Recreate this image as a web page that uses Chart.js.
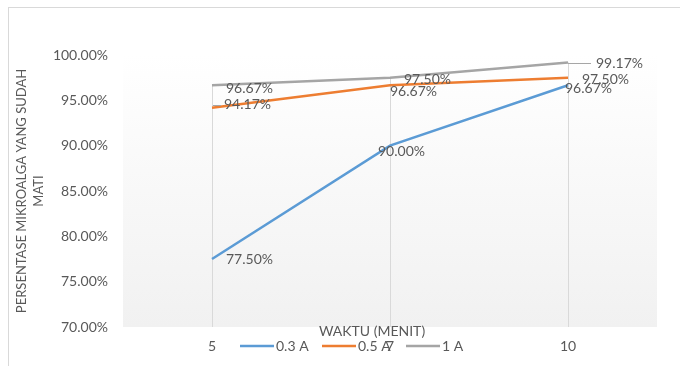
<!DOCTYPE html>
<html>
<head>
<meta charset="utf-8">
<script src="https://cdn.jsdelivr.net/npm/chart.js@4.4.1/dist/chart.umd.min.js"></script>
<style>
  html, body { margin: 0; padding: 0; background: #fff; }
  #wrap { position: relative; width: 680px; height: 366px; }
  #frame { position: absolute; left: 8px; top: 7px; width: 700px; height: 400px;
           border-top: 1px solid #d9d9d9; border-left: 1px solid #d9d9d9; }
  canvas { position: absolute; left: 0; top: 0; }
</style>
</head>
<body>
<div id="wrap">
  <div id="frame"></div>
  <canvas id="chart" width="680" height="366"></canvas>
</div>
<script>
const waktu = ['5', '7', '10'];
const seriesNames = ['0.3 A', '0.5 A', '1 A'];
const arus03 = [77.50, 90.00, 96.67];
const arus05 = [94.17, 96.67, 97.50];
const arus1 = [96.67, 97.50, 99.17];
const seriesColors = ['#5B9BD5', '#ED7D31', '#A5A5A5'];

const FONT = 'Lato, "Open Sans", sans-serif';
const TEXT = '#595959';

// label offsets (px) from each point, per series
const labelOffsets = [
  [[14, 0], [-12, 6], [-3, 3]],
  [[12, -3], [0, 6], [14, 2]],
  [[14, 3], [14, 2], [28, 1]]
];

const plotBackground = {
  id: 'plotBackground',
  beforeDraw(chart) {
    const { ctx, chartArea: a } = chart;
    const g = ctx.createLinearGradient(0, a.top, 0, a.bottom);
    g.addColorStop(0, '#ffffff');
    g.addColorStop(1, '#f1f1f1');
    ctx.save();
    ctx.fillStyle = g;
    ctx.fillRect(a.left, a.top, a.right - a.left, a.bottom - a.top);
    ctx.restore();
  },
  beforeDatasetsDraw(chart) {
    // drop lines from the highest point of each category
    const { ctx, scales: { x, y } } = chart;
    ctx.save();
    ctx.strokeStyle = '#d9d9d9';
    ctx.lineWidth = 1;
    waktu.forEach((w, i) => {
      const top = Math.max(...chart.data.datasets.map(d => d.data[i]));
      const px = Math.round(x.getPixelForValue(i)) + 0.5;
      ctx.beginPath();
      ctx.moveTo(px, y.getPixelForValue(top));
      ctx.lineTo(px, y.getPixelForValue(70));
      ctx.stroke();
    });
    ctx.restore();
  }
};

const decorations = {
  id: 'decorations',
  afterDatasetsDraw(chart) {
    const { ctx } = chart;
    ctx.save();
    ctx.font = '14px ' + FONT;
    ctx.fillStyle = TEXT;
    ctx.textBaseline = 'middle';
    ctx.textAlign = 'left';

    // leader lines for the offset labels
    ctx.strokeStyle = '#a6a6a6';
    ctx.lineWidth = 1;
    const p10 = chart.getDatasetMeta(2).data[2];
    ctx.beginPath();
    ctx.moveTo(p10.x, Math.round(p10.y) + 0.5);
    ctx.lineTo(p10.x + 23, Math.round(p10.y) + 0.5);
    ctx.stroke();
    const p5 = chart.getDatasetMeta(1).data[0];
    ctx.beginPath();
    ctx.moveTo(p5.x + 1, Math.round(p5.y) - 2.5);
    ctx.lineTo(p5.x + 9, Math.round(p5.y) - 2.5);
    ctx.stroke();

    chart.data.datasets.forEach((ds, si) => {
      const meta = chart.getDatasetMeta(si);
      meta.data.forEach((pt, i) => {
        const [dx, dy] = labelOffsets[si][i];
        ctx.fillText(ds.data[i].toFixed(2) + '%', pt.x + dx, pt.y + dy);
      });
    });

    // axis titles
    ctx.textAlign = 'center';
    ctx.fillText('WAKTU (MENIT)', 372, 331);
    ctx.save();
    ctx.font = '13px ' + FONT;
    ctx.translate(24, 191);
    ctx.rotate(-Math.PI / 2);
    ctx.fillText('PERSENTASE MIKROALGA YANG SUDAH', 0, -2);
    ctx.fillText('MATI', 0, 15);
    ctx.restore();

    // legend
    const legendX = [240, 322, 406];
    ctx.textAlign = 'left';
    ctx.lineWidth = 2.5;
    seriesNames.forEach((name, i) => {
      ctx.strokeStyle = seriesColors[i];
      ctx.beginPath();
      ctx.moveTo(legendX[i], 346);
      ctx.lineTo(legendX[i] + 34, 346);
      ctx.stroke();
      ctx.fillText(name, legendX[i] + 36, 346);
    });
    ctx.restore();
  }
};

new Chart(document.getElementById('chart'), {
  type: 'line',
  data: {
    labels: waktu,
    datasets: [arus03, arus05, arus1].map((vals, i) => ({
      label: seriesNames[i],
      data: vals,
      borderColor: seriesColors[i],
      backgroundColor: seriesColors[i],
      borderWidth: 2.5,
      pointRadius: 0,
      tension: 0
    }))
  },
  options: {
    responsive: false,
    animation: false,
    layout: { padding: { left: 0, right: 23, top: 55, bottom: 0 } },
    plugins: { legend: { display: false }, tooltip: { enabled: false } },
    scales: {
      x: {
        offset: true,
        grid: { display: false, drawTicks: false },
        border: { display: false },
        ticks: { color: TEXT, font: { family: FONT, size: 14 }, padding: 11 },
        afterFit(scale) { scale.height = 39; }
      },
      y: {
        min: 70,
        max: 100,
        grid: { display: false, drawTicks: false },
        border: { display: false },
        ticks: {
          stepSize: 5,
          color: TEXT,
          font: { family: FONT, size: 14 },
          padding: 15,
          callback: v => v.toFixed(2) + '%'
        },
        afterFit(scale) { scale.width = 123; }
      }
    }
  },
  plugins: [plotBackground, decorations]
});
</script>
</body>
</html>
